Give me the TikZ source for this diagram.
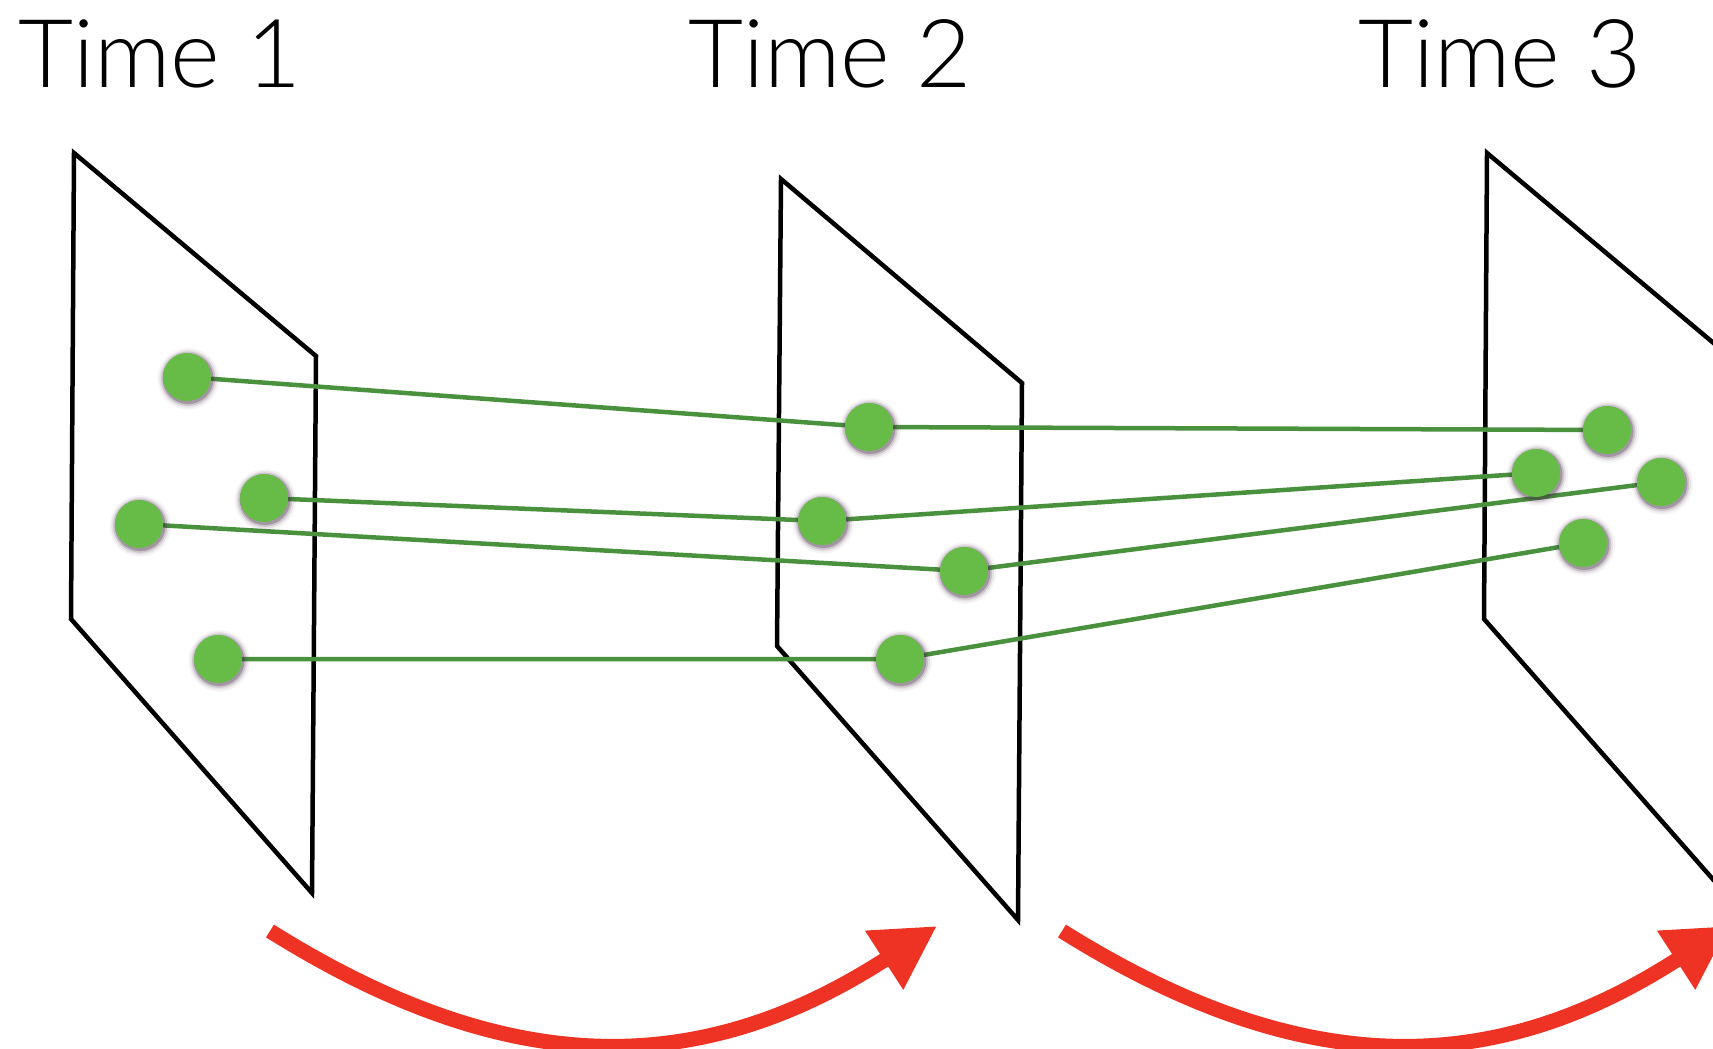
\documentclass[tikz,border=0pt]{standalone}
\usepackage{fontspec}
\setmainfont{Lato Light}
\usetikzlibrary{arrows.meta,shadows,backgrounds}
\definecolor{dotgreen}{RGB}{103,187,71}
\definecolor{linegreen}{RGB}{74,145,62}
\definecolor{arrowred}{RGB}{238,50,36}
\definecolor{shadowcol}{RGB}{70,45,70}
\tikzset{
  plane/.style={draw=black, line width=4.5pt, line join=miter},
  dot/.style={circle, fill=dotgreen, minimum size=48pt, inner sep=0pt,
    general shadow={shadow scale=1.06, shadow xshift=1pt, shadow yshift=-1.5pt, fill=shadowcol, opacity=0.3},
    general shadow={shadow scale=1.13, shadow xshift=1pt, shadow yshift=-1.5pt, fill=shadowcol, opacity=0.17},
    general shadow={shadow scale=1.2, shadow xshift=1pt, shadow yshift=-1.5pt, fill=shadowcol, opacity=0.09},
    general shadow={shadow scale=1.28, shadow xshift=1pt, shadow yshift=-1.5pt, fill=shadowcol, opacity=0.05}},
  link/.style={draw=linegreen, line width=4.5pt},
  flow/.style={draw=arrowred, line width=15pt, -{Triangle[length=63pt,width=66pt]}},
  label/.style={anchor=base west, inner sep=0pt, font=\fontsize{95}{95}\selectfont}
}
\begin{document}
\begin{tikzpicture}[x=1pt,y=-1pt]
\useasboundingbox (0,0) rectangle (1713,1049);
% titles
\node[label] (time1) at (18,88) {Time 1};
\node[label] (time2) at (688,88) {Time 2};
\node[label] (time3) at (1358,88) {Time 3};
% planes
\begin{scope}[on background layer]
\draw[plane] (74,153) -- (316,356) -- (312,893) -- (71,619) -- cycle;
\draw[plane] (781,179) -- (1022,383) -- (1018,920) -- (777,646) -- cycle;
\draw[plane] (1487,153) -- (1729,356) -- (1725,893) -- (1484,619) -- cycle;
\end{scope}
% dots
\node[dot] (a1) at (187,377) {};
\node[dot] (b1) at (264,498) {};
\node[dot] (c1) at (139,524) {};
\node[dot] (d1) at (218,659) {};
\node[dot] (a2) at (869,427) {};
\node[dot] (b2) at (822,521) {};
\node[dot] (c2) at (964,571) {};
\node[dot] (d2) at (900,659) {};
\node[dot] (a3) at (1607,430) {};
\node[dot] (b3) at (1536,473) {};
\node[dot] (c3) at (1661,482) {};
\node[dot] (d3) at (1583,543) {};
% links
\begin{scope}[on background layer]
\draw[link] (a1) -- (a2) -- (a3);
\draw[link] (b1) -- (b2) -- (b3);
\draw[link] (c1) -- (c2) -- (c3);
\draw[link] (d1) -- (d2) -- (d3);
\end{scope}
% arrows
\coordinate (s1) at (270,931);
\coordinate (e1) at (937,926);
\coordinate (s2) at (1062,931);
\coordinate (e2) at (1729,926);
\draw[flow] (s1) .. controls (508,1080) and (699,1080) .. (e1);
\draw[flow] (s2) .. controls (1300,1080) and (1491,1080) .. (e2);
\end{tikzpicture}
\end{document}
